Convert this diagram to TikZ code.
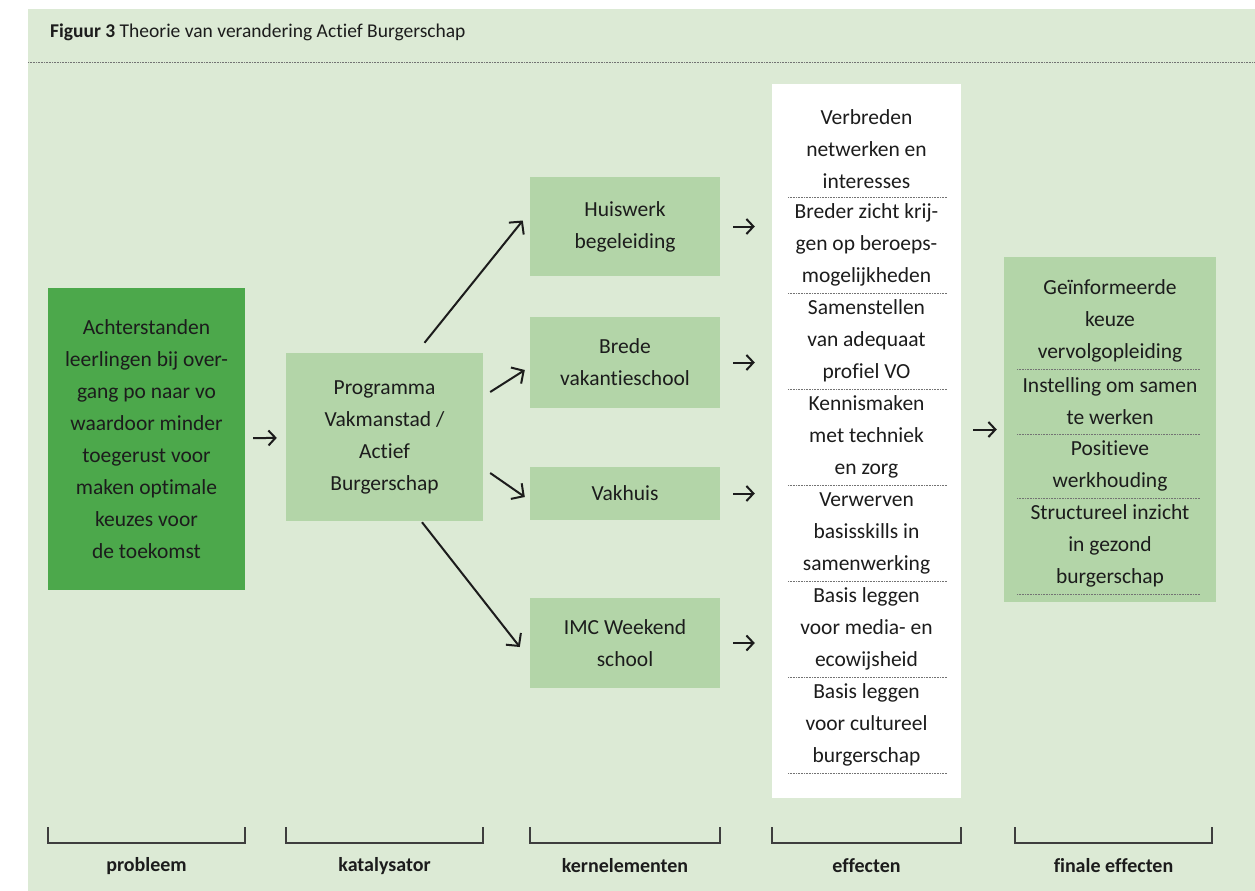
\documentclass[tikz,border=0pt]{standalone}
\usepackage{fontspec}
\setmainfont{Carlito}[Ligatures=CommonOff]
\usetikzlibrary{arrows.meta,positioning,calc}
\definecolor{bggreen}{HTML}{DCEAD5}
\definecolor{boxgreen}{HTML}{B3D5A8}
\definecolor{darkgreen}{HTML}{4CA84B}
\definecolor{ink}{HTML}{1C1C1C}
\tikzstyle{box}=[fill=boxgreen,text=ink,align=center,inner sep=0pt,font=\fontsize{21.5}{32}\selectfont]
\tikzstyle{item}=[text=ink,align=center,inner sep=0pt,font=\fontsize{21.5}{32}\selectfont]
\tikzstyle{conn}=[draw=ink,line width=2pt,-{Straight Barb[length=9pt,width=19pt,line width=2pt]}]
\tikzstyle{gap}=[draw=ink,line width=2pt,-{Straight Barb[length=7pt,width=15pt,line width=2pt]}]
\tikzstyle{sep}=[draw=black!55,line width=0.6pt,dash pattern=on 0.6pt off 1pt]
\tikzstyle{bracket}=[draw=ink!85,line width=1.3pt]

\begin{document}
\begin{tikzpicture}[x=1pt,y=-1pt]
    \useasboundingbox (0,0) rectangle (1255,891);
    \fill[bggreen] (28,9) rectangle (1255,891);
    % Title and rule
    \node[anchor=west,text=ink,font=\fontsize{19.5}{22}\selectfont,inner sep=0pt] (title) at (50,32)
        {\textbf{Figuur 3} Theorie van verandering Actief Burgerschap};
    \draw[sep] (28,62) -- (1255,62);
    % Problem and catalyst
    \node[box,fill=darkgreen,minimum width=197pt,minimum height=302pt] (prob) at (146.5,439)
        {Achterstanden\\leerlingen bij over-\\gang po naar vo\\waardoor minder\\toegerust voor\\maken optimale\\keuzes voor\\de toekomst};
    \node[box,minimum width=197pt,minimum height=168pt] (prog) at (384.5,437)
        {Programma\\Vakmanstad /\\Actief\\Burgerschap};
    % Core elements
    \node[box,minimum width=190pt,minimum height=99pt] (huis) at (625,226.5) {Huiswerk\\begeleiding};
    \node[box,minimum width=190pt,minimum height=91pt] (brede) at (625,362.5) {Brede\\vakantieschool};
    \node[box,minimum width=190pt,minimum height=53pt] (vak) at (625,493.5) {Vakhuis};
    \node[box,minimum width=190pt,minimum height=90pt] (imc) at (625,643) {IMC Weekend\\school};
    % Effects
    \node[fill=white,minimum width=189pt,minimum height=714pt,inner sep=0pt] (eff) at (866.5,441) {};
    \foreach \y/\name/\txt in {149/e1/{Verbreden\\netwerken en\\interesses},
        245/e2/{Breder zicht krij-\\gen op beroeps-\\mogelijkheden},
        341/e3/{Samenstellen\\van adequaat\\profiel VO},
        437/e4/{Kennismaken\\met techniek\\en zorg},
        533/e5/{Verwerven\\basisskills in\\samenwerking},
        629/e6/{Basis leggen\\voor media- en\\ecowijsheid},
        725/e7/{Basis leggen\\voor cultureel\\burgerschap}}
    {
        \node[item] (\name) at (866.5,\y) {\txt};
        \draw[sep] (788,\y+48) -- (947,\y+48);
    }
    % Final effects
    \node[box,minimum width=212pt,minimum height=345pt] (fin) at (1110,429.5) {};
    \foreach \y/\h/\name/\txt in {321/48/f1/{Geïnformeerde\\keuze\\vervolgopleiding},
        401.5/32.5/f2/{Instelling om samen\\te werken},
        466/32/f3/{Positieve\\werkhouding},
        546/48/f4/{Structureel inzicht\\in gezond\\burgerschap}}
    {
        \node[item] (\name) at (1110,\y) {\txt};
        \draw[sep] (1017,\y+\h) -- (1200,\y+\h);
    }
    % Connectors
    \draw[conn] ([xshift=40pt,yshift=10pt]prog.north) -- ([xshift=-7pt,yshift=6pt]huis.west);
    \draw[conn] ([xshift=7pt,yshift=45pt]prog.east) -- ([xshift=-5pt,yshift=-7.5pt]brede.west);
    \draw[conn] ([xshift=7pt,yshift=-36pt]prog.east) -- ([xshift=-5pt,yshift=-3.5pt]vak.west);
    \draw[conn] ([xshift=37.5pt,yshift=-1pt]prog.south) -- ([xshift=-10pt,yshift=-4pt]imc.west);
    \draw[gap,shorten <=8pt,shorten >=9pt] (prob) -- (prog);
    \foreach \k in {huis,brede,vak,imc}
        \draw[gap,shorten <=13pt,shorten >=17pt] (\k) -- (\k -| eff.west);
    \draw[gap,shorten <=12pt,shorten >=7pt] (eff.east |- fin) -- (fin);
    % Brackets and labels
    \foreach \a/\b/\name/\lab in {48/245/lprob/probleem, 286/483/lprog/katalysator,
        530/720/lkern/kernelementen, 772/961/leff/effecten, 1015/1212/lfin/finale effecten}
    {
        \draw[bracket] (\a,827) -- (\a,843) -- (\b,843) -- (\b,827);
        \node[text=ink,font=\fontsize{20}{22}\selectfont\bfseries] (\name) at ({(\a+\b)/2},866) {\lab};
    }
\end{tikzpicture}
\end{document}
